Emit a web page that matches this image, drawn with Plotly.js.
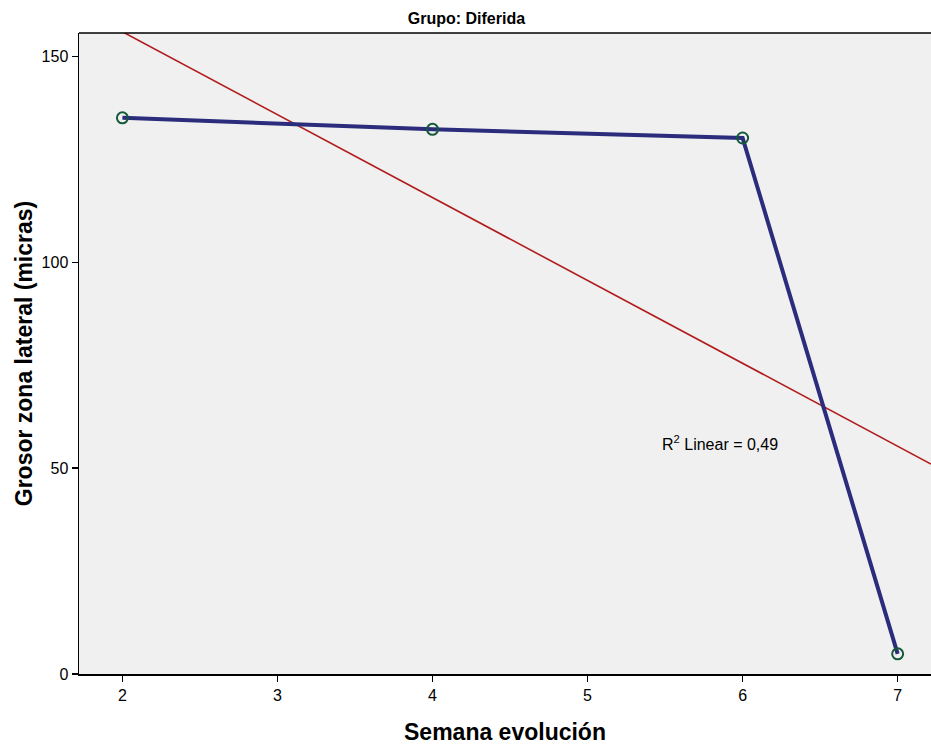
<!DOCTYPE html>
<html>
<head>
<meta charset="utf-8">
<script src="https://cdn.plot.ly/plotly-3.0.1.min.js"></script>
<style>html,body{margin:0;padding:0;background:#fff;}#chart{width:931px;height:747px;}</style>
</head>
<body>
<div id="chart"></div>
<script>
const semana = [2, 4, 6, 7];
const grosor = [135.1, 132.3, 130.2, 4.9];
const xTicks = [2, 3, 4, 5, 6, 7];
const yTicks = [0, 50, 100, 150];
const r2Label = "R<sup>2</sup> Linear = 0,49";

// least-squares fit of the plotted data
const n = semana.length;
const mx = semana.reduce((a,b)=>a+b,0)/n;
const my = grosor.reduce((a,b)=>a+b,0)/n;
let sxy = 0, sxx = 0;
for (let i = 0; i < n; i++) { sxy += (semana[i]-mx)*(grosor[i]-my); sxx += (semana[i]-mx)**2; }
const slope = sxy/sxx, icpt = my - slope*mx;
const xr = [1.72, 7.215];
const fitX = xr;
const fitY = xr.map(x => icpt + slope*x);

const font = 'Liberation Sans, Arial, sans-serif';
const data = [
  {x: fitX, y: fitY, mode: 'lines', line: {color: '#b01c1c', width: 1.6}, hoverinfo: 'skip', showlegend: false},
  {x: semana, y: grosor, mode: 'lines+markers', line: {color: '#2b2d7c', width: 4},
   marker: {symbol: 'circle-open', size: 11, color: '#14593a', line: {width: 2, color: '#14593a'}}, showlegend: false}
];
const layout = {
  width: 931, height: 747,
  margin: {l: 79, r: 0, t: 33, b: 73, pad: 0},
  paper_bgcolor: '#ffffff', plot_bgcolor: '#f0f0f0',
  font: {family: font, color: '#000'},
  title: {text: '<b>Grupo: Diferida</b>', font: {size: 16, family: font}, x: 0.501, xanchor: 'center', y: 0.976, yanchor: 'middle'},
  xaxis: {range: xr, tickvals: xTicks, ticktext: xTicks.map(String), ticks: 'outside', ticklen: 6, tickwidth: 1.5, tickcolor: '#000',
    showline: true, linecolor: '#000', linewidth: 1.5, showgrid: false, zeroline: false, tickfont: {size: 16},
    title: {text: '<b>Semana evolución</b>', font: {size: 23}, standoff: 21}},
  yaxis: {range: [0, 155.7], tickvals: yTicks, ticktext: yTicks.map(String), ticks: 'outside', ticklen: 6, tickwidth: 1.5, tickcolor: '#000',
    showline: true, linecolor: '#000', linewidth: 1.5, showgrid: false, zeroline: false, tickfont: {size: 16},
    title: {text: '<b>Grosor zona lateral (micras)</b>', font: {size: 23}, standoff: 2}},
  shapes: [{type: 'line', xref: 'paper', yref: 'paper', x0: 0, x1: 1, y0: 1, y1: 1, line: {color: '#000', width: 1.5}}],
  annotations: [{text: r2Label, x: 5.465, y: 56, xref: 'x', yref: 'y', xanchor: 'left', yanchor: 'middle', showarrow: false, font: {size: 16, family: font}}]
};
Plotly.newPlot('chart', data, layout, {displayModeBar: false, staticPlot: true});
</script>
</body>
</html>
